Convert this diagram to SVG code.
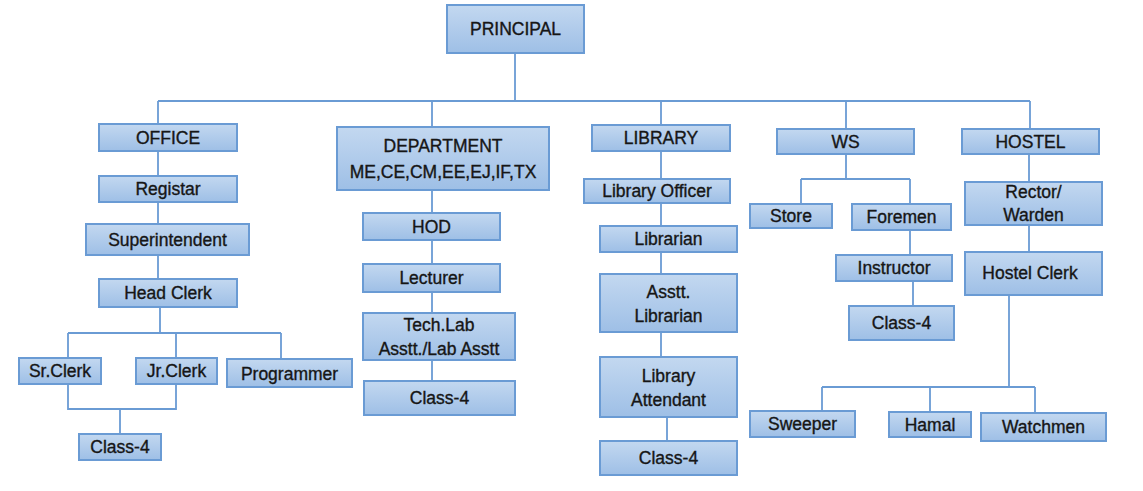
<svg xmlns="http://www.w3.org/2000/svg" width="1143" height="491" viewBox="0 0 1143 491">
<defs>
<linearGradient id="g" x1="0" y1="0" x2="0" y2="1">
<stop offset="0" stop-color="#c3d8f0"/>
<stop offset="1" stop-color="#9ebfe6"/>
</linearGradient>
</defs>
<style>
.b{fill:url(#g);stroke:#6a9bd4;stroke-width:2}
.t{font-family:"Liberation Sans",Arial,sans-serif;font-size:17.5px;fill:#161616;stroke:#161616;stroke-width:0.35;text-anchor:middle}
.c{fill:none;stroke:#6a9bd4;stroke-width:1.8}
</style>
<rect width="1143" height="491" fill="#ffffff"/>
<g id="connectors" class="c">
<path d="M515 53V101M158 101H1030M158 101V124M432 101V127M661 101V125M846 101V129M1030 101V129"/>
<path d="M158 151V176M158 202V224M158 255V279M160 307V333M68 333H281M68 333V358M176 333V358M281 333V359M68 384V409H176V384M120 409V434"/>
<path d="M432 190V213M432 240V264M432 292V313M432 360V381"/>
<path d="M661 151V179M661 203V226M661 252V274M661 332V357M667 417V441"/>
<path d="M846 154V179M801 179H910M801 179V204M910 179V204M910 230V255M913 281V306"/>
<path d="M1029 154V182M1029 225V252M1009 295V387M822 387H1035M822 387V411M930 387V412M1035 387V413"/>
</g>
<g id="principal"><rect class="b" x="447" y="5" width="137" height="48"/><text class="t" x="515.5" y="35">PRINCIPAL</text></g>
<g id="office"><rect class="b" x="99" y="124" width="138" height="27"/><text class="t" x="168" y="144">OFFICE</text></g>
<g id="registar"><rect class="b" x="99" y="176" width="138" height="26"/><text class="t" x="168" y="195">Registar</text></g>
<g id="superintendent"><rect class="b" x="86" y="224" width="163" height="31"/><text class="t" x="167.5" y="246">Superintendent</text></g>
<g id="headclerk"><rect class="b" x="99" y="279" width="138" height="28"/><text class="t" x="168" y="299">Head Clerk</text></g>
<g id="srclerk"><rect class="b" x="19" y="358" width="82" height="26"/><text class="t" x="60" y="377">Sr.Clerk</text></g>
<g id="jrclerk"><rect class="b" x="136" y="358" width="81" height="26"/><text class="t" x="176.5" y="377">Jr.Clerk</text></g>
<g id="programmer"><rect class="b" x="227" y="359" width="125" height="28"/><text class="t" x="289.5" y="380">Programmer</text></g>
<g id="office-class4"><rect class="b" x="79" y="434" width="82" height="26"/><text class="t" x="120" y="453">Class-4</text></g>
<g id="department"><rect class="b" x="337" y="127" width="212" height="63"/><text class="t" x="443" y="152">DEPARTMENT</text><text class="t" x="443" y="178">ME,CE,CM,EE,EJ,IF,TX</text></g>
<g id="hod"><rect class="b" x="363" y="213" width="137" height="27"/><text class="t" x="431.5" y="233">HOD</text></g>
<g id="lecturer"><rect class="b" x="363" y="264" width="137" height="28"/><text class="t" x="431.5" y="284">Lecturer</text></g>
<g id="techlab"><rect class="b" x="363" y="313" width="152" height="47"/><text class="t" x="439" y="331">Tech.Lab</text><text class="t" x="439" y="355">Asstt./Lab Asstt</text></g>
<g id="dept-class4"><rect class="b" x="364" y="381" width="151" height="34"/><text class="t" x="439.5" y="404">Class-4</text></g>
<g id="library"><rect class="b" x="592" y="125" width="138" height="26"/><text class="t" x="661" y="144">LIBRARY</text></g>
<g id="libraryofficer"><rect class="b" x="584" y="179" width="146" height="24"/><text class="t" x="657" y="197">Library Officer</text></g>
<g id="librarian"><rect class="b" x="600" y="226" width="137" height="26"/><text class="t" x="668.5" y="245">Librarian</text></g>
<g id="asstlibrarian"><rect class="b" x="600" y="274" width="137" height="58"/><text class="t" x="668.5" y="298">Asstt.</text><text class="t" x="668.5" y="322">Librarian</text></g>
<g id="libraryattendant"><rect class="b" x="600" y="357" width="137" height="60"/><text class="t" x="668.5" y="382">Library</text><text class="t" x="668.5" y="406">Attendant</text></g>
<g id="library-class4"><rect class="b" x="600" y="441" width="137" height="34"/><text class="t" x="668.5" y="464">Class-4</text></g>
<g id="ws"><rect class="b" x="777" y="129" width="137" height="25"/><text class="t" x="845.5" y="148">WS</text></g>
<g id="store"><rect class="b" x="750" y="204" width="82" height="24"/><text class="t" x="791" y="222">Store</text></g>
<g id="foremen"><rect class="b" x="852" y="204" width="99" height="26"/><text class="t" x="901.5" y="223">Foremen</text></g>
<g id="instructor"><rect class="b" x="836" y="255" width="116" height="26"/><text class="t" x="894" y="274">Instructor</text></g>
<g id="ws-class4"><rect class="b" x="849" y="306" width="105" height="34"/><text class="t" x="901.5" y="329">Class-4</text></g>
<g id="hostel"><rect class="b" x="962" y="129" width="137" height="25"/><text class="t" x="1030.5" y="148">HOSTEL</text></g>
<g id="rector"><rect class="b" x="965" y="182" width="137" height="43"/><text class="t" x="1033.5" y="198">Rector/</text><text class="t" x="1033.5" y="221">Warden</text></g>
<g id="hostelclerk"><rect class="b" x="965" y="252" width="137" height="43"/><text class="t" x="1030" y="279">Hostel Clerk</text></g>
<g id="sweeper"><rect class="b" x="750" y="411" width="105" height="26"/><text class="t" x="802.5" y="430">Sweeper</text></g>
<g id="hamal"><rect class="b" x="889" y="412" width="82" height="25"/><text class="t" x="930" y="431">Hamal</text></g>
<g id="watchmen"><rect class="b" x="981" y="413" width="125" height="28"/><text class="t" x="1043.5" y="433">Watchmen</text></g>
</svg>
